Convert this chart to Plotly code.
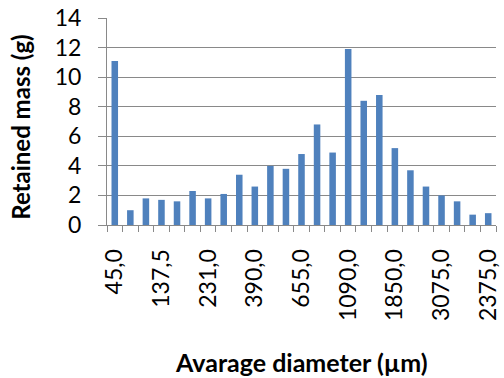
import plotly.graph_objects as go

# Sieve fractions (average diameter, µm) and retained mass (g)
positions = list(range(25))
retained_mass = [11.1, 1.0, 1.8, 1.7, 1.6, 2.3, 1.8, 2.1, 3.4, 2.6,
                 4.0, 3.8, 4.8, 6.8, 4.9, 11.9, 8.4, 8.8, 5.2, 3.7,
                 2.6, 2.0, 1.6, 0.7, 0.8]
tick_positions = [0, 3, 6, 9, 12, 15, 18, 21, 24]
tick_labels = ["45,0", "137,5", "231,0", "390,0", "655,0",
               "1090,0", "1850,0", "3075,0", "2375,0"]

BAR = "#4F81BD"
GRID = "#898989"
FONT = "Lato"

fig = go.Figure(go.Bar(x=positions, y=retained_mass, marker_color=BAR,
                       marker_line_width=0))

fig.update_layout(
    width=504, height=378,
    margin=dict(l=107, r=3, t=17, b=153),
    paper_bgcolor="white", plot_bgcolor="white",
    bargap=0.58, showlegend=False,
    font=dict(family=FONT, size=23, color="black"),
)

fig.update_xaxes(
    range=[-0.5, 24.5],
    tickmode="array", tickvals=tick_positions, ticktext=tick_labels,
    tickangle=-90, ticks="", ticklabelstandoff=14,
    ticklabeloverflow="allow",
    showgrid=False, zeroline=False,
    showline=True, linecolor=GRID, linewidth=1,
    minor=dict(tickmode="linear", tick0=-0.5, dtick=1, ticks="outside",
               ticklen=6, tickcolor=GRID, tickwidth=1, showgrid=False),
)

fig.update_yaxes(
    range=[0, 14], tickmode="linear", tick0=0, dtick=2,
    ticks="outside", ticklen=8, tickcolor=GRID, tickwidth=1,
    ticklabelstandoff=12,
    showgrid=True, gridcolor=GRID, gridwidth=1,
    zeroline=False, showline=True, linecolor=GRID, linewidth=1,
)

fig.add_annotation(text="<b>Retained mass (g)</b>", textangle=-90,
                   xref="paper", yref="paper", x=0, y=0.47,
                   xanchor="center", yanchor="middle", xshift=-86,
                   showarrow=False, font=dict(family=FONT, size=24))
fig.add_annotation(text="<b>Avarage diameter (µm)</b>",
                   xref="paper", yref="paper", x=0.5, y=0,
                   xanchor="center", yanchor="middle", yshift=-137,
                   showarrow=False, font=dict(family=FONT, size=25))

fig.write_html("out.html")
